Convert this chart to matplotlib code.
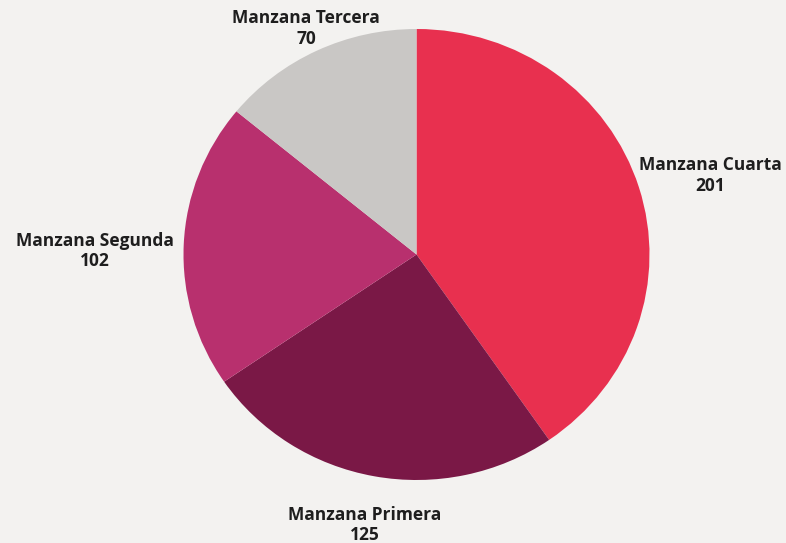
import numpy as np
import matplotlib.pyplot as plt

# data
categories = ["Manzana Cuarta", "Manzana Primera", "Manzana Segunda", "Manzana Tercera"]
values = [201, 125, 102, 70]
colors = ["#e8304f", "#7a1846", "#b8306e", "#c9c7c5"]

# label placement: distance from centre (radius units) and angle nudge (deg)
label_dist = [1.31, 1.22, 1.38, 1.11]
label_nudge = [-1.8, 0.0, 1.9, 0.0]

W, H = 786, 543
cx, cy = 416.5, 254.5      # pie centre, pixels from top-left
rx, ry = 233.0, 225.5      # the photo squashes the circle a little

fig = plt.figure(figsize=(W / 100, H / 100), dpi=100)
fig.patch.set_facecolor("#f3f2f0")
ax = fig.add_axes([0, 0, 1, 1])

wedges, _ = ax.pie(values, colors=colors, startangle=90, counterclock=False,
                   wedgeprops=dict(linewidth=0))

# axis limits in radius units so that one pixel maps to the photo
ax.set_aspect("auto")
ax.set_xlim(-cx / rx, (W - cx) / rx)
ax.set_ylim(-(H - cy) / ry, cy / ry)
ax.set_facecolor("#f3f2f0")

for w, name, v, d, nd in zip(wedges, categories, values, label_dist, label_nudge):
    mid = np.deg2rad((w.theta1 + w.theta2) / 2 + nd)
    x, y = d * np.cos(mid), d * np.sin(mid)
    ax.text(x, y, f"{name}\n{v}", ha="center", va="center",
            fontsize=12.5, fontweight="bold", family="Open Sans",
            color="#1e1e1e", linespacing=1.2)

fig.savefig("out.png", dpi=100, facecolor=fig.get_facecolor())
